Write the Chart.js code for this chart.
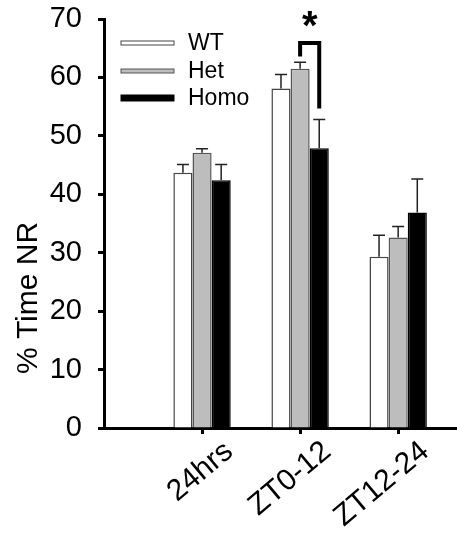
<!DOCTYPE html>
<html>
<head>
<meta charset="utf-8">
<script src="https://cdn.jsdelivr.net/npm/chart.js@4.4.0/dist/chart.umd.min.js"></script>
<style>
  html, body { margin: 0; padding: 0; background: #fff; }
  #wrap { width: 457px; height: 533px; }
</style>
</head>
<body>
<div id="wrap"><canvas id="chart" width="457" height="533"></canvas></div>
<script>
// categories and positions on the x axis
const categories = ['24hrs', 'ZT0-12', 'ZT12-24']
const xPos = [1, 2, 3]

// mean % time NR and upper SEM per genotype
const wtMean = [43.7, 58.1, 29.3]
const wtErr = [1.4, 2.4, 3.7]
const hetMean = [47.1, 61.5, 32.6]
const hetErr = [0.7, 1.1, 1.9]
const homoMean = [42.4, 47.9, 36.9]
const homoErr = [2.7, 4.9, 5.7]

const yTicks = [0, 10, 20, 30, 40, 50, 60, 70]

// significance bracket between Het and Homo at ZT0-12
const sigCategory = 1
const sigTop = 65.9
const sigLeftEnd = 63.6
const sigRightEnd = 54.7
const sigStarY = 66.6

const FONT = "'Liberation Sans', Arial, sans-serif"

const toPoints = (vals) => xPos.map((x, i) => ({x: x, y: vals[i]}))

const errors = [wtErr, hetErr, homoErr]

const extras = {
  id: 'extras',
  afterDatasetsDraw(chart) {
    const ctx = chart.ctx
    const y = chart.scales.y
    ctx.save()
    // error bars (upper only)
    chart.data.datasets.forEach((ds, d) => {
      const meta = chart.getDatasetMeta(d)
      meta.data.forEach((bar, i) => {
        const top = y.getPixelForValue(ds.data[i].y + errors[d][i])
        ctx.strokeStyle = '#222'
        ctx.lineWidth = 1.5
        ctx.beginPath()
        ctx.moveTo(bar.x, bar.y)
        ctx.lineTo(bar.x, top)
        ctx.moveTo(bar.x - 6, top)
        ctx.lineTo(bar.x + 6, top)
        ctx.stroke()
      })
    })
    // significance bracket
    const xl = chart.getDatasetMeta(1).data[sigCategory].x
    const xr = chart.getDatasetMeta(2).data[sigCategory].x
    ctx.strokeStyle = '#000'
    ctx.lineWidth = 4
    ctx.lineJoin = 'miter'
    ctx.beginPath()
    ctx.moveTo(xl, y.getPixelForValue(sigLeftEnd))
    ctx.lineTo(xl, y.getPixelForValue(sigTop))
    ctx.lineTo(xr, y.getPixelForValue(sigTop))
    ctx.lineTo(xr, y.getPixelForValue(sigRightEnd))
    ctx.stroke()
    ctx.fillStyle = '#000'
    ctx.font = 'bold 40px ' + FONT
    ctx.textAlign = 'center'
    ctx.textBaseline = 'alphabetic'
    ctx.fillText('*', (xl + xr) / 2, y.getPixelForValue(sigStarY))

    // legend
    const rows = [43, 71, 98]
    ctx.font = '23px ' + FONT
    ctx.textAlign = 'left'
    ctx.textBaseline = 'middle'
    chart.data.datasets.forEach((ds, d) => {
      const h = d === 2 ? 6 : 4
      const lx = 121
      ctx.fillStyle = ds.backgroundColor
      ctx.fillRect(lx, rows[d] - h / 2, 53, h)
      ctx.strokeStyle = ds.borderColor
      ctx.lineWidth = 1
      ctx.strokeRect(lx, rows[d] - h / 2, 53, h)
      ctx.fillStyle = '#000'
      ctx.fillText(ds.label, lx + 67, rows[d] + 1)
    })

    // y axis title
    ctx.translate(29, 298)
    ctx.rotate(-Math.PI / 2)
    ctx.font = '30px ' + FONT
    ctx.textAlign = 'center'
    ctx.fillText('% Time NR', 0, 0)
    ctx.restore()
  }
}

const ctx = document.getElementById('chart').getContext('2d')
const myChart = new Chart(ctx, {
  type: 'bar',
  data: {
    datasets: [
      {label: 'WT', data: toPoints(wtMean), backgroundColor: '#ffffff', borderColor: '#444', borderWidth: 1.5},
      {label: 'Het', data: toPoints(hetMean), backgroundColor: '#bdbdbd', borderColor: '#555', borderWidth: 1.5},
      {label: 'Homo', data: toPoints(homoMean), backgroundColor: '#000000', borderColor: '#000', borderWidth: 1.5}
    ]
  },
  options: {
    responsive: false,
    animation: false,
    layout: {padding: {top: 19, right: 0, left: 0, bottom: 0}},
    plugins: {legend: {display: false}, tooltip: {enabled: false}},
    datasets: {bar: {categoryPercentage: 0.585, barPercentage: 1}},
    scales: {
      x: {
        type: 'linear',
        offset: false,
        min: 0,
        max: 3.6,
        border: {width: 3, color: '#000'},
        grid: {
          offset: false,
          drawOnChartArea: false,
          tickLength: 6,
          tickWidth: 3,
          tickColor: (c) => (c.tick && c.tick.value > 0 && c.tick.value <= 3) ? '#000' : 'rgba(0,0,0,0)'
        },
        ticks: {
          stepSize: 1,
          includeBounds: false,
          autoSkip: false,
          minRotation: 40,
          maxRotation: 40,
          labelOffset: 27,
          padding: 0,
          color: '#000',
          font: {family: FONT, size: 30},
          callback: (v) => categories[xPos.indexOf(v)] || ''
        },
        afterFit: (s) => { s.height = 105; s.paddingLeft = 0; s.paddingRight = 0 }
      },
      y: {
        min: 0,
        max: 70,
        border: {width: 3, color: '#000'},
        grid: {drawOnChartArea: false, tickLength: 6, tickWidth: 3, tickColor: '#000'},
        afterBuildTicks: (s) => { s.ticks = yTicks.map(v => ({value: v})) },
        ticks: {
          padding: 16,
          color: '#000',
          font: {family: FONT, size: 29}
        },
        afterFit: (s) => { s.width = 104; s.paddingTop = 0; s.paddingBottom = 0 }
      }
    }
  },
  plugins: [extras]
})
</script>
</body>
</html>
